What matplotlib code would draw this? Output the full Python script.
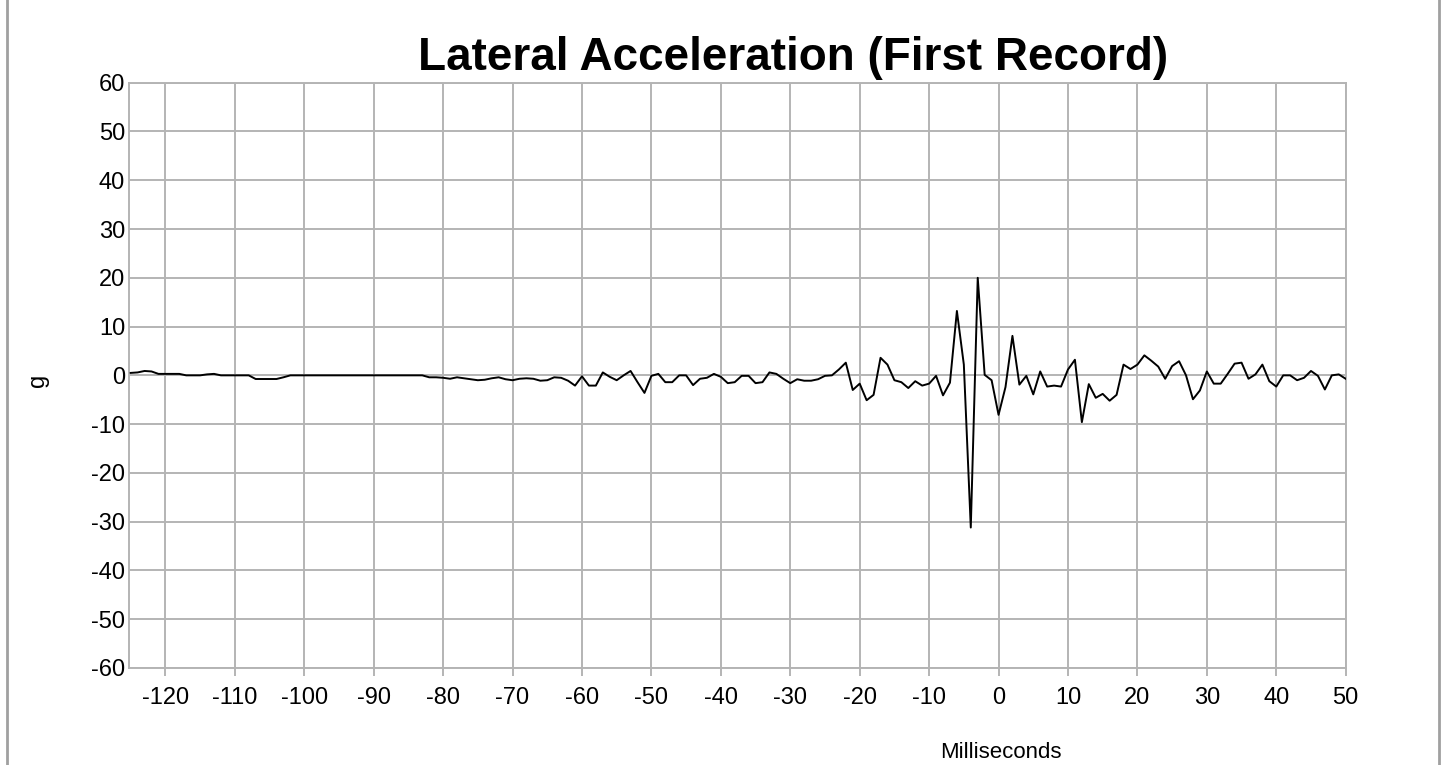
import numpy as np
import matplotlib
matplotlib.use("Agg")
from matplotlib import pyplot as plt
from matplotlib.lines import Line2D

plt.rcParams['font.family'] = ['Liberation Sans', 'DejaVu Sans']
plt.rcParams['axes.unicode_minus'] = False

#Time axis in milliseconds, one sample per ms
ms = np.arange(-125, 51)

#Lateral acceleration in g
g_values = [
    0.5, 0.6, 0.9, 0.8, 0.3, 0.3, 0.3, 0.3, 0, 0,             # -125 .. -116
    0, 0.2, 0.3, 0, 0, 0, 0, 0, -0.75, -0.75,                 # -115 .. -106
    -0.75, -0.75, -0.4, 0, 0, 0, 0, 0, 0, 0,                  # -105 .. -96
    0, 0, 0, 0, 0, 0, 0, 0, 0, 0,                             # -95 .. -86
    0, 0, 0, -0.4, -0.4, -0.5, -0.7, -0.4, -0.6, -0.8,        # -85 .. -76
    -1.0, -0.9, -0.6, -0.4, -0.8, -1.0, -0.7, -0.6, -0.7, -1.1,  # -75 .. -66
    -1.0, -0.4, -0.5, -1.1, -2.1, -0.2, -2.1, -2.1, 0.6, -0.3,   # -65 .. -56
    -1.0, 0, 0.9, -1.4, -3.6, -0.1, 0.3, -1.4, -1.4, 0,       # -55 .. -46
    0, -2.0, -0.7, -0.5, 0.3, -0.3, -1.6, -1.4, -0.1, -0.1,   # -45 .. -36
    -1.6, -1.4, 0.6, 0.3, -0.7, -1.6, -0.8, -1.1, -1.1, -0.8, # -35 .. -26
    -0.1, 0, 1.2, 2.6, -3.0, -1.7, -5.1, -4.0, 3.6, 2.2,      # -25 .. -16
    -1.0, -1.4, -2.6, -1.2, -2.1, -1.7, -0.1, -4.1, -1.5, 13.2,  # -15 .. -6
    2.2, -31.2, 20.0, 0.1, -1.0, -8.1, -2.4, 8.1, -1.9, -0.1,    # -5 .. 4
    -3.9, 0.8, -2.3, -2.1, -2.3, 1.2, 3.2, -9.6, -1.8, -4.6,     # 5 .. 14
    -3.8, -5.2, -4.0, 2.2, 1.3, 2.2, 4.1, 3.0, 1.8, -0.7,        # 15 .. 24
    1.9, 2.9, 0, -4.9, -3.1, 0.8, -1.7, -1.7, 0.3, 2.4,          # 25 .. 34
    2.6, -0.7, 0.2, 2.2, -1.2, -2.3, 0, 0, -1.0, -0.5,           # 35 .. 44
    0.9, -0.1, -2.9, 0, 0.2, -0.7,                               # 45 .. 50
]

x_ticks = list(range(-120, 51, 10))
y_ticks = list(range(-60, 61, 10))

W, H = 1445, 765
fig = plt.figure(figsize=(W / 100, H / 100), dpi=100)
ax = fig.add_axes([129.3 / W, 1 - 668 / H, (1345.7 - 129.3) / W, (668 - 82.7) / H])

grid_grey = '#b4b4b4'
ax.plot(ms, g_values, color='black', linewidth=1.4, zorder=3)

ax.set_xlim(-125.2, 50)
ax.set_ylim(-60, 60)
ax.set_xticks(x_ticks)
ax.set_yticks(y_ticks)
ax.grid(True, color=grid_grey, linewidth=1.4)
ax.set_axisbelow(True)

for s in ax.spines.values():
    s.set_color(grid_grey)
    s.set_linewidth(1.4)

ax.tick_params(axis='x', length=6, width=1.4, color=grid_grey, labelsize=17, pad=8)
ax.tick_params(axis='y', length=0, labelsize=17, pad=3)

#Title and axis labels placed like the original export
fig.text(793 / W, 1 - 70 / H, 'Lateral Acceleration (First Record)',
         ha='center', va='baseline', fontsize=33, fontweight='bold')
fig.text(1001 / W, 1 - 752 / H, 'Milliseconds', ha='center', va='center', fontsize=16)
fig.text(38 / W, 1 - 380 / H, 'g', ha='center', va='center', rotation=90, fontsize=17)

#Grey frame edges at left and right of the picture
fig.add_artist(Line2D([6.5 / W, 6.5 / W], [0, 1], color='#a0a0a0', linewidth=2))
fig.add_artist(Line2D([1439 / W, 1439 / W], [0, 1], color='#a0a0a0', linewidth=2))

fig.savefig('out.png', dpi=100)
